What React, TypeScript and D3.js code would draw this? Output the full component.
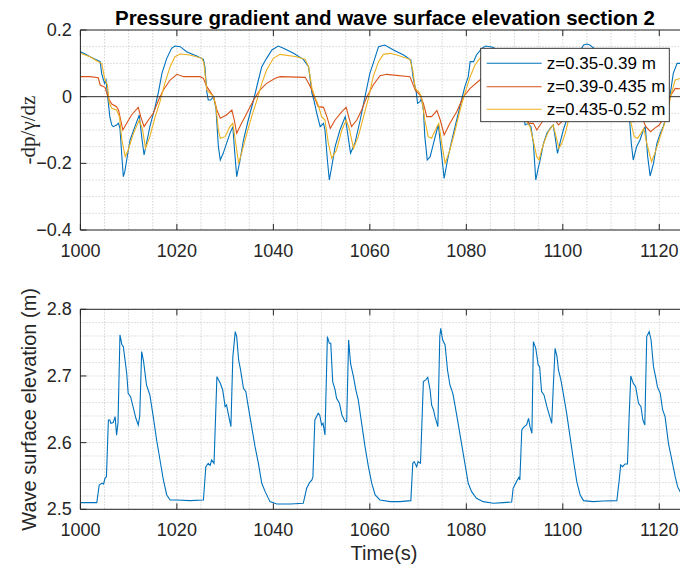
import React from "react";
import * as d3 from "d3";

// time axis settings
const timeDomain = [1000, 1125];
const timeTicks = [1000, 1020, 1040, 1060, 1080, 1100, 1120];

// top panel: pressure gradient, three depth bands
const legendLabels = ["z=0.35-0.39 m", "z=0.39-0.435 m", "z=0.435-0.52 m"];
const lineColors = ["#0072BD", "#D95319", "#EDB120"];

const gradBlue: [number, number][] = [
  [1000, 0.135], [1001, 0.128], [1002, 0.12], [1003.4, 0.11], [1004.1, 0.105], [1004.4, 0.07],
  [1005, 0.04], [1005.3, 0.05], [1005.8, -0.02], [1006.1, -0.06], [1006.5, -0.085], [1006.8, -0.09],
  [1007.5, -0.085], [1007.9, -0.08], [1008.2, -0.095], [1008.6, -0.18], [1008.9, -0.24], [1009.2, -0.225],
  [1009.6, -0.19], [1010.3, -0.13], [1011.3, -0.09], [1012.2, -0.055], [1012.7, -0.12], [1013.2, -0.175],
  [1013.7, -0.14], [1014.4, -0.09], [1015.5, -0.03], [1016.2, 0.015], [1016.9, 0.07], [1017.9, 0.115],
  [1018.9, 0.145], [1019.6, 0.152], [1020.7, 0.15], [1022, 0.135], [1024.1, 0.122], [1025.5, 0.112],
  [1025.8, 0.09], [1026.2, 0.015], [1026.5, -0.01], [1027, -0.01], [1027.6, 0.0], [1028.1, -0.035],
  [1028.6, -0.15], [1029, -0.19], [1029.6, -0.17], [1030.3, -0.14], [1031, -0.11], [1031.6, -0.09],
  [1031.9, -0.15], [1032.4, -0.24], [1033.1, -0.19], [1033.8, -0.13], [1034.8, -0.07], [1035.9, -0.01],
  [1036.9, 0.05], [1037.6, 0.09], [1038.6, 0.115], [1039.7, 0.14], [1041, 0.152], [1042.1, 0.145],
  [1044.2, 0.13], [1046.2, 0.112], [1047.3, 0.09], [1048, 0.01], [1048.4, -0.01], [1049, -0.05],
  [1049.7, -0.09], [1050.4, -0.08], [1050.7, -0.1], [1051.2, -0.19], [1051.6, -0.25], [1052.1, -0.21],
  [1052.8, -0.15], [1053.8, -0.1], [1054.9, -0.06], [1055.4, -0.11], [1056, -0.17], [1056.9, -0.14],
  [1058, -0.07], [1059, 0.0], [1060, 0.07], [1060.7, 0.1], [1061.8, 0.15], [1063.1, 0.155],
  [1064.9, 0.14], [1067, 0.125], [1068.5, 0.11], [1069, 0.055], [1069.6, 0.015], [1069.9, -0.02],
  [1070.4, -0.015], [1070.7, -0.005], [1071.1, -0.04], [1071.4, -0.12], [1071.9, -0.19], [1072.5, -0.18],
  [1073.2, -0.14], [1073.9, -0.1], [1074.2, -0.085], [1074.7, -0.15], [1075.4, -0.245], [1076.1, -0.19],
  [1077, -0.13], [1078, -0.07], [1079, -0.01], [1079.7, 0.03], [1080.4, 0.06], [1080.8, 0.105],
  [1081.5, 0.105], [1082.1, 0.125], [1083.2, 0.145], [1084, 0.152], [1085.5, 0.148], [1087.5, 0.13],
  [1089.5, 0.115], [1090.3, 0.09], [1090.8, 0.02], [1091.3, -0.01], [1091.8, -0.05], [1092.2, -0.085],
  [1092.8, -0.08], [1093.4, -0.09], [1093.9, -0.14], [1094.4, -0.25], [1094.9, -0.215], [1095.3, -0.19],
  [1096, -0.14], [1096.7, -0.11], [1097.4, -0.095], [1098, -0.085], [1098.4, -0.12], [1098.9, -0.17],
  [1099.4, -0.14], [1100.1, -0.1], [1100.8, -0.07], [1101.5, -0.02], [1102.3, 0.04], [1103, 0.1],
  [1103.7, 0.14], [1104.3, 0.155], [1105, 0.158], [1105.6, 0.155], [1106.5, 0.145], [1108, 0.13],
  [1110, 0.12], [1111.3, 0.11], [1112, 0.09], [1112.4, 0.02], [1112.9, -0.01], [1113.4, -0.03],
  [1113.9, -0.08], [1114.2, -0.14], [1114.6, -0.19], [1115.3, -0.15], [1116, -0.13], [1116.7, -0.1],
  [1117.1, -0.09], [1117.6, -0.18], [1118.1, -0.238], [1118.8, -0.2], [1119.5, -0.14], [1120.2, -0.11],
  [1120.8, -0.09], [1121.5, -0.06], [1122.2, 0.0], [1122.9, 0.07], [1123.7, 0.1], [1124.5, 0.1],
  [1125.5, 0.11],
];

const gradOrange: [number, number][] = [
  [1000, 0.06], [1002, 0.06], [1003.7, 0.057], [1004.1, 0.035], [1005.1, 0.028], [1005.8, -0.005],
  [1006.5, -0.022], [1007.5, -0.03], [1007.9, -0.04], [1008.8, -0.1], [1009.6, -0.08], [1010.6, -0.055],
  [1012, -0.032], [1012.5, -0.06], [1013.2, -0.09], [1014.1, -0.07], [1015.1, -0.05], [1016.2, -0.01],
  [1017.2, 0.02], [1018.6, 0.05], [1020, 0.067], [1021.4, 0.06], [1024.8, 0.06], [1025.5, 0.055],
  [1026.2, 0.03], [1026.9, 0.015], [1027.6, 0.0], [1028.3, -0.04], [1029, -0.065], [1030.3, -0.055],
  [1031.4, -0.04], [1031.9, -0.07], [1032.4, -0.11], [1033.4, -0.08], [1034.5, -0.05], [1035.9, -0.01],
  [1037.2, 0.02], [1038.6, 0.04], [1040.4, 0.055], [1041.4, 0.06], [1046.6, 0.058], [1047.3, 0.04],
  [1048, 0.02], [1048.6, -0.005], [1049.3, -0.03], [1050.4, -0.032], [1051.1, -0.06], [1051.8, -0.095],
  [1052.8, -0.07], [1054.2, -0.045], [1055.1, -0.032], [1055.6, -0.06], [1056.2, -0.09], [1057.3, -0.07],
  [1058.3, -0.04], [1059.4, 0.0], [1060.7, 0.035], [1062.1, 0.063], [1063.5, 0.067], [1068.3, 0.06],
  [1069.4, 0.02], [1070.4, 0.005], [1071.1, -0.02], [1071.8, -0.06], [1072.8, -0.06], [1073.9, -0.042],
  [1074.6, -0.07], [1075.4, -0.115], [1076.6, -0.08], [1078, -0.045], [1079.4, 0.0], [1080.8, 0.025],
  [1082.8, 0.05], [1084.5, 0.065], [1089.5, 0.06], [1090.5, 0.03], [1091.5, 0.0], [1092.2, -0.06],
  [1093, -0.08], [1093.9, -0.08], [1094.6, -0.1], [1095.3, -0.085], [1096, -0.07], [1097.5, -0.05],
  [1098.4, -0.07], [1099.1, -0.085], [1099.8, -0.075], [1100.5, -0.06], [1102, -0.01], [1103.5, 0.035],
  [1105, 0.06], [1106, 0.067], [1111.5, 0.06], [1112.5, 0.03], [1113.5, 0.0], [1114.6, -0.075],
  [1115.5, -0.07], [1116.5, -0.065], [1117.2, -0.09], [1118.2, -0.105], [1119, -0.095], [1120, -0.085],
  [1121, -0.06], [1122.2, 0.0], [1123.3, 0.025], [1125.5, 0.022],
];

const gradYellow: [number, number][] = [
  [1000, 0.13], [1002, 0.12], [1003.7, 0.105], [1004.4, 0.1], [1005.1, 0.05], [1005.6, 0.035],
  [1006, -0.02], [1006.5, -0.035], [1007.5, -0.04], [1008.1, -0.06], [1008.6, -0.13], [1009.3, -0.18],
  [1009.9, -0.16], [1011, -0.11], [1012.2, -0.07], [1012.9, -0.1], [1013.5, -0.155], [1014.4, -0.12],
  [1015.5, -0.06], [1016.5, -0.015], [1017.5, 0.04], [1018.6, 0.09], [1019.6, 0.12], [1020.7, 0.128],
  [1022.7, 0.125], [1025.2, 0.115], [1025.6, 0.1], [1026.2, 0.02], [1026.9, 0.01], [1027.6, 0.0],
  [1028.1, -0.03], [1028.6, -0.1], [1029, -0.125], [1030, -0.12], [1031, -0.09], [1031.6, -0.08],
  [1032.1, -0.13], [1032.8, -0.2], [1033.4, -0.17], [1034.5, -0.11], [1035.5, -0.06], [1036.6, -0.01],
  [1037.6, 0.04], [1038.6, 0.08], [1040, 0.115], [1041.4, 0.127], [1044.8, 0.12], [1046.6, 0.112],
  [1047.3, 0.09], [1048, 0.025], [1048.6, 0.0], [1049.3, -0.025], [1050, -0.06], [1050.7, -0.07],
  [1051.4, -0.14], [1052.1, -0.185], [1053.1, -0.16], [1054.2, -0.1], [1055.1, -0.07], [1055.8, -0.1],
  [1056.6, -0.155], [1057.6, -0.12], [1058.7, -0.06], [1059.7, -0.005], [1060.7, 0.06], [1061.8, 0.105],
  [1062.8, 0.127], [1064.2, 0.13], [1065.6, 0.125], [1068.3, 0.112], [1068.9, 0.08], [1069.4, 0.025],
  [1070.1, 0.015], [1070.7, 0.0], [1071.4, -0.07], [1072.1, -0.12], [1072.8, -0.125], [1073.9, -0.09],
  [1074.3, -0.08], [1074.9, -0.14], [1075.6, -0.2], [1076.6, -0.16], [1077.7, -0.1], [1078.7, -0.04],
  [1079.7, 0.01], [1080.8, 0.06], [1081.8, 0.095], [1082.8, 0.115], [1084, 0.127], [1089.5, 0.112],
  [1090.3, 0.05], [1090.8, 0.02], [1091.5, -0.02], [1092.3, -0.07], [1093.2, -0.09], [1094, -0.14],
  [1094.6, -0.18], [1095.1, -0.19], [1095.6, -0.16], [1096.3, -0.13], [1097, -0.105], [1098, -0.085],
  [1098.6, -0.12], [1099.2, -0.155], [1099.8, -0.14], [1100.5, -0.11], [1101.2, -0.07], [1102, -0.02],
  [1103, 0.04], [1104, 0.09], [1105, 0.115], [1106, 0.127], [1111, 0.115], [1112, 0.1],
  [1112.5, 0.04], [1113.3, 0.0], [1114, -0.07], [1114.8, -0.12], [1115.5, -0.125], [1116.2, -0.11],
  [1116.8, -0.095], [1117.4, -0.14], [1118.4, -0.195], [1119.2, -0.165], [1120.2, -0.12], [1121, -0.085],
  [1121.8, -0.04], [1122.5, 0.01], [1123.3, 0.05], [1125.5, 0.06],
];

// bottom panel: wave surface elevation (m)
const elevation: [number, number][] = [
  [1000, 2.51], [1003.4, 2.51], [1003.9, 2.5365], [1004.4, 2.539], [1004.8, 2.538], [1005.1, 2.5465],
  [1005.4, 2.549], [1005.8, 2.634], [1006.1, 2.634], [1006.3, 2.629], [1006.8, 2.63], [1007.2, 2.639],
  [1007.5, 2.611], [1007.8, 2.63], [1008.2, 2.7615], [1008.6, 2.747], [1008.9, 2.744], [1009.6, 2.704],
  [1009.9, 2.674], [1010.4, 2.669], [1011, 2.6515], [1011.5, 2.6365], [1012, 2.6265], [1012.3, 2.64],
  [1012.7, 2.7365], [1013.1, 2.7215], [1013.7, 2.6865], [1014.4, 2.6715], [1015.1, 2.639], [1015.8, 2.604],
  [1016.5, 2.574], [1017.2, 2.544], [1017.9, 2.5215], [1018.6, 2.514], [1020, 2.514], [1022.7, 2.513],
  [1025.5, 2.514], [1026, 2.564], [1026.5, 2.569], [1026.9, 2.566], [1027.2, 2.574], [1027.7, 2.569],
  [1028.3, 2.699], [1029, 2.689], [1029.5, 2.679], [1030, 2.654], [1030.3, 2.6565], [1030.7, 2.6415],
  [1031.2, 2.624], [1031.6, 2.729], [1032.1, 2.7665], [1032.4, 2.759], [1032.8, 2.724], [1033.2, 2.709],
  [1033.8, 2.6815], [1034.3, 2.6765], [1034.8, 2.654], [1035.5, 2.624], [1036.2, 2.594], [1036.9, 2.569],
  [1037.6, 2.539], [1038.3, 2.5265], [1039.3, 2.5115], [1040.7, 2.508], [1043.5, 2.508], [1046.2, 2.509],
  [1046.9, 2.5315], [1047.5, 2.54], [1048, 2.544], [1048.2, 2.549], [1048.6, 2.634], [1049.3, 2.644],
  [1049.6, 2.6415], [1050, 2.6265], [1050.3, 2.629], [1050.7, 2.6115], [1051.2, 2.759], [1051.6, 2.749],
  [1051.9, 2.749], [1052.3, 2.6915], [1052.8, 2.679], [1053.1, 2.6665], [1053.7, 2.659], [1054.2, 2.6415],
  [1054.9, 2.6315], [1055.2, 2.6315], [1055.6, 2.754], [1056, 2.719], [1056.6, 2.699], [1057.1, 2.679],
  [1057.6, 2.664], [1058.3, 2.629], [1059, 2.594], [1059.7, 2.564], [1060.4, 2.539], [1061.1, 2.5215],
  [1062.1, 2.514], [1064.2, 2.5115], [1066.2, 2.5115], [1068.5, 2.513], [1068.9, 2.569], [1069.2, 2.5715],
  [1069.7, 2.564], [1070, 2.5715], [1070.5, 2.569], [1071.1, 2.6915], [1071.6, 2.694], [1072, 2.698],
  [1072.5, 2.679], [1072.8, 2.6565], [1073.2, 2.649], [1073.5, 2.639], [1074.1, 2.624], [1074.5, 2.759],
  [1074.7, 2.7715], [1075.1, 2.754], [1075.6, 2.7465], [1076.1, 2.709], [1076.6, 2.6865], [1077.2, 2.674],
  [1077.7, 2.654], [1078.3, 2.629], [1079, 2.599], [1079.7, 2.569], [1080.4, 2.539], [1081.1, 2.5265],
  [1082.1, 2.5165], [1083.5, 2.5115], [1085.6, 2.509], [1087.7, 2.51], [1089.4, 2.511], [1089.7, 2.5315],
  [1090.4, 2.5415], [1090.9, 2.548], [1091.1, 2.544], [1091.5, 2.619], [1092, 2.624], [1092.5, 2.6265],
  [1092.9, 2.6365], [1093.2, 2.624], [1093.6, 2.614], [1093.9, 2.7515], [1094.4, 2.7415], [1094.9, 2.7165],
  [1095.2, 2.714], [1095.6, 2.6765], [1096.1, 2.6715], [1096.7, 2.654], [1097.2, 2.6415], [1097.7, 2.629],
  [1098, 2.679], [1098.4, 2.7415], [1098.8, 2.729], [1099.1, 2.709], [1099.6, 2.694], [1100.1, 2.674],
  [1100.8, 2.644], [1101.5, 2.609], [1102.2, 2.574], [1102.9, 2.5415], [1103.6, 2.5215], [1104.3, 2.513],
  [1106.3, 2.5115], [1108.4, 2.5125], [1111.2, 2.513], [1111.7, 2.544], [1112, 2.5665], [1112.4, 2.564],
  [1112.9, 2.568], [1113.4, 2.568], [1113.8, 2.649], [1114.1, 2.7], [1114.6, 2.689], [1115.1, 2.684],
  [1115.7, 2.659], [1116.2, 2.654], [1116.6, 2.634], [1117, 2.6265], [1117.4, 2.759], [1117.9, 2.7665],
  [1118.3, 2.754], [1118.8, 2.714], [1119.3, 2.6965], [1119.6, 2.684], [1120.2, 2.674], [1120.7, 2.649],
  [1121.2, 2.639], [1121.9, 2.599], [1122.6, 2.574], [1123.3, 2.549], [1123.8, 2.534], [1124.3, 2.5265],
  [1125.5, 2.522],
];

const gradTicks = [-0.4, -0.2, 0, 0.2];
const elevTicks = [2.5, 2.6, 2.7, 2.8];

const width = 680;
const height = 569;
const plotLeft = 80.4;
const plotRight = 683.4;
const axisColor = "#262626";
const font = "Liberation Sans, Arial, Helvetica, sans-serif";
const serif = "Liberation Serif, DejaVu Serif, Times New Roman, serif";

const Panel = ({ id, top, bottom, yDomain, yTicks, yMinorStep, yFmt, series, zeroLine }) => {
  const xScale = d3.scaleLinear().domain(timeDomain).range([plotLeft, plotRight]);
  const yScale = d3.scaleLinear().domain(yDomain).range([bottom, top]);

  const xMinor = d3.range(timeDomain[0], timeDomain[1] + 0.001, 5);
  const nMinor = Math.round((yDomain[1] - yDomain[0]) / yMinorStep);
  const yMinor = d3.range(0, nMinor + 1).map((i) => yDomain[0] + i * yMinorStep);

  const line = d3
    .line<[number, number]>()
    .x((d) => xScale(d[0]))
    .y((d) => yScale(d[1]));

  return (
    <g>
      <defs>
        <clipPath id={id}>
          <rect x={plotLeft} y={top} width={plotRight - plotLeft} height={bottom - top} />
        </clipPath>
      </defs>
      {/* minor grid */}
      {xMinor.map((t, i) => (
        <line key={"gx" + i} x1={xScale(t)} x2={xScale(t)} y1={top} y2={bottom}
          stroke="#c4c4c4" strokeWidth={0.7} strokeDasharray="1.5,1.5" />
      ))}
      {yMinor.map((v, i) => (
        <line key={"gy" + i} x1={plotLeft} x2={plotRight} y1={yScale(v)} y2={yScale(v)}
          stroke="#c4c4c4" strokeWidth={0.7} strokeDasharray="1.5,1.5" />
      ))}
      <g clipPath={`url(#${id})`}>
        {series.map((s, i) => (
          <path key={i} d={line(s.data)} fill="none" stroke={s.color} strokeWidth={1.1} />
        ))}
        {zeroLine && (
          <line x1={plotLeft} x2={plotRight} y1={yScale(0)} y2={yScale(0)} stroke="#333" strokeWidth={1} />
        )}
      </g>
      {/* box */}
      <line x1={plotLeft} x2={plotRight} y1={bottom} y2={bottom} stroke={axisColor} strokeWidth={1} />
      <line x1={plotLeft} x2={plotRight} y1={top} y2={top} stroke={axisColor} strokeWidth={1} />
      <line x1={plotLeft} x2={plotLeft} y1={top} y2={bottom} stroke={axisColor} strokeWidth={1} />
      {timeTicks.map((t) => (
        <g key={"xt" + t}>
          <line x1={xScale(t)} x2={xScale(t)} y1={bottom} y2={bottom - 6} stroke={axisColor} />
          <line x1={xScale(t)} x2={xScale(t)} y1={top} y2={top + 6} stroke={axisColor} />
          <text x={xScale(t)} y={bottom + 21} textAnchor="middle" dominantBaseline="central"
            fontSize={18} fontFamily={font} fill={axisColor}>
            {t}
          </text>
        </g>
      ))}
      {yTicks.map((v) => (
        <g key={"yt" + v}>
          <line x1={plotLeft} x2={plotLeft + 6} y1={yScale(v)} y2={yScale(v)} stroke={axisColor} />
          <text x={plotLeft - 8.5} y={yScale(v)} textAnchor="end" dominantBaseline="central"
            fontSize={18} fontFamily={font} fill={axisColor}>
            {yFmt(v)}
          </text>
        </g>
      ))}
    </g>
  );
};

export default function App() {
  const topSeries = [
    { data: gradBlue, color: lineColors[0] },
    { data: gradOrange, color: lineColors[1] },
    { data: gradYellow, color: lineColors[2] },
  ];
  const legendRows = [63.3, 86.7, 109.3];

  return (
    <div>
      <style>{`body{margin:0}`}</style>
      <svg width={width} height={height} style={{ display: "block", background: "#fff" }}>
        <text x={385} y={25} textAnchor="middle" fontSize={20.5} fontWeight="bold" fontFamily={font} fill="#000">
          Pressure gradient and wave surface elevation section 2
        </text>

        <Panel
          id="clipTop"
          top={30}
          bottom={230}
          yDomain={[-0.4, 0.2]}
          yTicks={gradTicks}
          yMinorStep={0.05}
          yFmt={(v) => (v === 0 ? "0" : d3.format(".1f")(v))}
          series={topSeries}
          zeroLine
        />
        <text transform="translate(35,130) rotate(-90)" textAnchor="middle" fontSize={21}
          fontFamily={serif} fill={axisColor}>
          -dp/γ/dz
        </text>

        {/* legend */}
        <g>
          <rect x={480.7} y={48.3} width={188.6} height={73.4} fill="#fff" stroke={axisColor} strokeWidth={0.9} />
          {legendLabels.map((label, i) => (
            <g key={label}>
              <line x1={486.7} x2={541.7} y1={legendRows[i]} y2={legendRows[i]} stroke={lineColors[i]} strokeWidth={1.1} />
              <text x={546.7} y={legendRows[i]} dominantBaseline="central" fontSize={17} fontFamily={font} fill="#000">
                {label}
              </text>
            </g>
          ))}
        </g>

        <Panel
          id="clipBottom"
          top={309.3}
          bottom={509.3}
          yDomain={[2.5, 2.8]}
          yTicks={elevTicks}
          yMinorStep={0.02}
          yFmt={d3.format(".1f")}
          series={[{ data: elevation, color: lineColors[0] }]}
          zeroLine={false}
        />
        <text transform="translate(36,409.3) rotate(-90)" textAnchor="middle" fontSize={20} fontFamily={font} fill={axisColor}>
          Wave surface elevation (m)
        </text>
        <text x={384} y={553} textAnchor="middle" dominantBaseline="central" fontSize={20} fontFamily={font} fill={axisColor}>
          Time(s)
        </text>
      </svg>
    </div>
  );
}
